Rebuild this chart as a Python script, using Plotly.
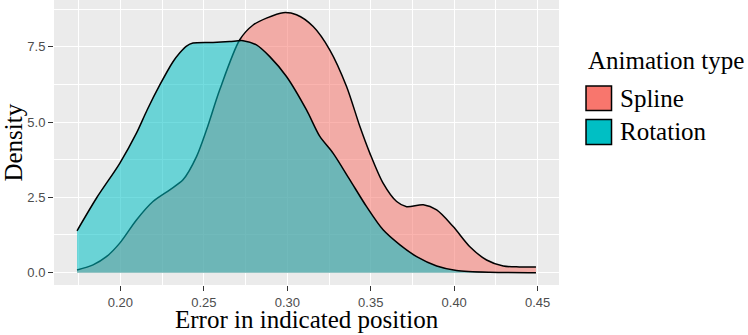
import plotly.graph_objects as go

# density curves
spline_x = [0.174, 0.1836, 0.1916, 0.1996, 0.2096, 0.2195, 0.2296, 0.2375, 0.2456, 0.2516,
            0.2595, 0.2715, 0.2795, 0.2875, 0.2975, 0.3055, 0.3155, 0.3255, 0.3355, 0.3435,
            0.3495, 0.3574, 0.3655, 0.3715, 0.3815, 0.3895, 0.3994, 0.4094, 0.4194, 0.4294,
            0.439, 0.449]
spline_y = [0.09, 0.26, 0.53, 0.98, 1.75, 2.36, 2.75, 3.08, 3.85, 4.74,
            6.07, 7.73, 8.22, 8.45, 8.63, 8.56, 8.17, 7.39, 6.18, 4.85,
            3.96, 2.97, 2.36, 2.19, 2.25, 2.08, 1.53, 0.86, 0.42, 0.22,
            0.19, 0.19]

rotation_x = [0.174, 0.1856, 0.1996, 0.2096, 0.216, 0.2236, 0.2315, 0.2356, 0.2396, 0.2435,
              0.2555, 0.2655, 0.2735, 0.2815, 0.2895, 0.2995, 0.3115, 0.3195, 0.3275, 0.3375,
              0.3475, 0.3574, 0.3675, 0.3775, 0.3895, 0.4014, 0.4214, 0.449]
rotation_y = [1.39, 2.47, 3.63, 4.63, 5.40, 6.23, 7.0, 7.3, 7.52, 7.62,
              7.64, 7.67, 7.70, 7.56, 7.17, 6.51, 5.40, 4.52, 3.96, 3.08,
              2.19, 1.42, 0.92, 0.53, 0.22, 0.07, 0.01, 0.0]

series_names = ["Spline", "Rotation"]
series_colors = ["#F8766D", "#00BFC4"]
fill_colors = ["rgba(248,118,109,0.55)", "rgba(0,191,196,0.55)"]

SERIF = "Liberation Serif"
SANS = "Liberation Sans"
title_font = {"family": SERIF, "size": 25, "color": "black"}

fig = go.Figure()
for name, xs, ys, fc in zip(series_names, [spline_x, rotation_x], [spline_y, rotation_y], fill_colors):
    fig.add_trace(go.Scatter(
        x=xs, y=ys, name=name, mode="lines", fill="tozeroy", fillcolor=fc,
        line={"color": "black", "width": 1.5, "shape": "spline", "smoothing": 0.8},
        showlegend=False,
    ))

# axis titles
fig.add_annotation(x=0.5, y=-0.1228, xref="paper", yref="paper", text="Error in indicated position",
                   showarrow=False, xanchor="center", yanchor="middle", font=title_font)
fig.add_annotation(x=-0.081, y=0.5, xref="paper", yref="paper", text="Density", textangle=-90,
                   showarrow=False, xanchor="center", yanchor="middle", font=title_font)

# ggplot-style legend on the right
fig.add_annotation(x=1.0535, y=0.786, xref="paper", yref="paper", text="Animation type",
                   showarrow=False, xanchor="left", yanchor="middle", font=title_font)
key_tops = [0.698, 0.581]
key_bottoms = [0.612, 0.493]
for name, col, top, bot in zip(series_names, series_colors, key_tops, key_bottoms):
    fig.add_shape(type="rect", xref="paper", yref="paper", x0=1.0535, x1=1.104, y0=bot, y1=top,
                  fillcolor=col, line={"color": "black", "width": 1.5})
    fig.add_annotation(x=1.1168, y=(top + bot) / 2, xref="paper", yref="paper", text=name,
                       showarrow=False, xanchor="left", yanchor="middle", font=title_font)

fig.update_layout(
    width=748, height=335,
    paper_bgcolor="white", plot_bgcolor="#EBEBEB",
    margin={"l": 54, "r": 189, "t": 0, "b": 50},
    showlegend=False,
    xaxis={
        "range": [0.1602, 0.4628], "tick0": 0.2, "dtick": 0.05, "tickformat": ".2f",
        "ticks": "outside", "ticklen": 5, "tickcolor": "#333333", "tickwidth": 1.1,
        "showgrid": True, "gridcolor": "white", "gridwidth": 1.4,
        "minor": {"dtick": 0.025, "tick0": 0.175, "showgrid": True, "gridcolor": "white", "gridwidth": 0.7},
        "zeroline": False, "showline": False, "automargin": False,
        "tickfont": {"family": SANS, "size": 13, "color": "#4D4D4D"},
    },
    yaxis={
        "range": [-0.41, 9.05], "tick0": 0, "dtick": 2.5, "tickformat": ".1f",
        "ticks": "outside", "ticklen": 5, "tickcolor": "#333333", "tickwidth": 1.1,
        "showgrid": True, "gridcolor": "white", "gridwidth": 1.4,
        "minor": {"dtick": 1.25, "tick0": 0, "showgrid": True, "gridcolor": "white", "gridwidth": 0.7},
        "zeroline": False, "showline": False, "automargin": False,
        "tickfont": {"family": SANS, "size": 13, "color": "#4D4D4D"},
    },
)

# drop the browser's default 8px body margin so the figure sits at the window origin
fig.write_html("out.html", config={"displayModeBar": False},
               post_script="document.body.style.margin='0';")
